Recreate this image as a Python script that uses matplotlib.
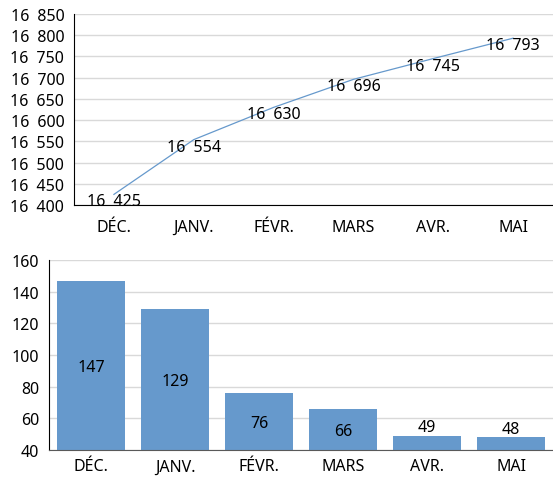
import matplotlib
matplotlib.use("Agg")
import matplotlib.pyplot as plt

plt.rcParams['font.family'] = ['Noto Sans', 'DejaVu Sans']

months = ["DÉC.", "JANV.", "FÉVR.", "MARS", "AVR.", "MAI"]
line_values = [16425, 16554, 16630, 16696, 16745, 16793]
bar_values = [147, 129, 76, 66, 49, 48]
line_yticks = list(range(16400, 16851, 50))
bar_yticks = list(range(40, 161, 20))

BLUE = "#6699CC"
GRID = "#D9D9D9"
FS = 11.5

def fmt(v):
    s = f"{v:,}".replace(",", "\u2002")
    return s

fig = plt.figure(figsize=(5.53, 4.81), dpi=100)

# Top line chart
ax1 = fig.add_axes([74/553, 1-206/481, 1-74/553, (206-15)/481])
x = list(range(len(months)))
ax1.plot(x, line_values, color=BLUE, lw=0.9)
ax1.set_xlim(-0.5, len(months)-0.5)
ax1.set_ylim(16400, 16850)
ax1.set_yticks(line_yticks)
ax1.set_yticklabels([fmt(v) for v in line_yticks], fontsize=FS)
ax1.set_xticks(x)
ax1.set_xticklabels(months, fontsize=FS)
ax1.tick_params(length=0, pad=7)
ax1.tick_params(axis='x', pad=10)
ax1.yaxis.grid(True, color=GRID, lw=1)
ax1.set_axisbelow(True)
for s in ["top", "right"]:
    ax1.spines[s].set_visible(False)
ax1.spines["left"].set_color("black")
ax1.spines["bottom"].set_color("black")
for xi, v in zip(x, line_values):
    ax1.annotate(fmt(v), (xi, v), xytext=(0, -5), textcoords="offset points",
                 ha="center", va="center", fontsize=FS, clip_on=False)

# Bottom bar chart
ax2 = fig.add_axes([49/553, 1-451/481, 1-49/553, (451-261)/481])
ax2.bar(x, bar_values, width=0.81, color=BLUE, bottom=0)
ax2.set_xlim(-0.5, len(months)-0.5)
ax2.set_ylim(40, 160)
ax2.set_yticks(bar_yticks)
ax2.set_yticklabels([str(v) for v in bar_yticks], fontsize=FS)
ax2.set_xticks(x)
ax2.set_xticklabels(months, fontsize=FS)
ax2.tick_params(length=0, pad=7)
ax2.tick_params(axis='x', pad=6)
ax2.yaxis.grid(True, color=GRID, lw=1)
ax2.set_axisbelow(True)
for s in ["top", "right"]:
    ax2.spines[s].set_visible(False)
ax2.spines["left"].set_color("black")
ax2.spines["bottom"].set_color("#595959")
for xi, v in zip(x, bar_values):
    if v - 40 > 12:
        ax2.text(xi, (v + 40) / 2 - 1, str(v), ha="center", va="center", fontsize=FS)
    else:
        ax2.text(xi, v + 0.3, str(v), ha="center", va="bottom", fontsize=FS)

fig.savefig("out.png", dpi=100)
